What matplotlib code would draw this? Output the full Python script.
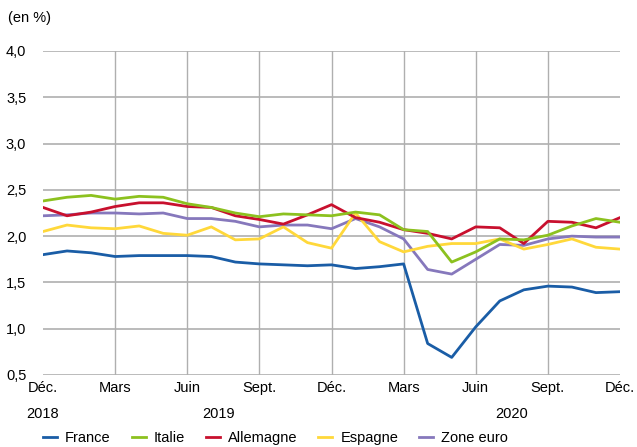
import matplotlib
matplotlib.use('Agg')
import matplotlib.pyplot as plt

plt.rcParams['font.family'] = ['Liberation Sans Narrow', 'Liberation Sans', 'DejaVu Sans']

months = list(range(25))
tick_pos = [0, 3, 6, 9, 12, 15, 18, 21, 24]
tick_labels = ['Déc.', 'Mars', 'Juin', 'Sept.', 'Déc.', 'Mars', 'Juin', 'Sept.', 'Déc.']
years = ['2018', '2019', '2020']
year_pos = [0, 7.3, 19.5]

france = [1.80, 1.84, 1.82, 1.78, 1.79, 1.79, 1.79, 1.78, 1.72, 1.70, 1.69, 1.68,
          1.69, 1.65, 1.67, 1.70, 0.84, 0.69, 1.02, 1.30, 1.42, 1.46, 1.45, 1.39, 1.40]
italie = [2.38, 2.42, 2.44, 2.40, 2.43, 2.42, 2.35, 2.31, 2.25, 2.21, 2.24, 2.23,
          2.22, 2.26, 2.23, 2.07, 2.05, 1.72, 1.83, 1.97, 1.96, 2.01, 2.11, 2.19, 2.15]
allemagne = [2.31, 2.22, 2.26, 2.32, 2.36, 2.36, 2.32, 2.31, 2.22, 2.18, 2.13, 2.23,
             2.34, 2.20, 2.15, 2.07, 2.03, 1.97, 2.10, 2.09, 1.92, 2.16, 2.15, 2.09, 2.20]
espagne = [2.05, 2.12, 2.09, 2.08, 2.11, 2.03, 2.01, 2.10, 1.96, 1.97, 2.10, 1.93,
           1.87, 2.25, 1.94, 1.83, 1.89, 1.92, 1.92, 1.97, 1.86, 1.91, 1.97, 1.88, 1.86]
zone_euro = [2.22, 2.23, 2.25, 2.25, 2.24, 2.25, 2.19, 2.19, 2.16, 2.10, 2.12, 2.12,
             2.08, 2.19, 2.10, 1.97, 1.64, 1.59, 1.75, 1.91, 1.90, 1.97, 2.00, 1.99, 1.99]

series = [
    ('France', france, '#1A5DA6'),
    ('Italie', italie, '#8CC11F'),
    ('Allemagne', allemagne, '#C8102E'),
    ('Espagne', espagne, '#FFD83A'),
    ('Zone euro', zone_euro, '#8678BC'),
]

fig = plt.figure(figsize=(6.37, 4.47), dpi=100)
ax = fig.add_axes([43 / 637, 1 - 375 / 447, (620 - 43) / 637, (375 - 51) / 447])

grid_col = '#AFAFAF'
for y in [0.5, 1.0, 1.5, 2.0, 2.5, 3.0, 3.5, 4.0]:
    ax.axhline(y, color=grid_col, lw=1.2, zorder=1)
for x in tick_pos[1:-1]:
    ax.axvline(x, color=grid_col, lw=1.0, zorder=1)

# draw in reverse so France sits on top like the original
for name, vals, col in series[::-1]:
    ax.plot(months, vals, color=col, lw=2.0, label=name, zorder=2)

ax.set_xlim(0, 24)
ax.set_ylim(0.5, 4.0)
for s in ax.spines.values():
    s.set_visible(False)
ax.tick_params(length=0, labelsize=10.5, pad=12)
ax.set_yticks([0.5, 1.0, 1.5, 2.0, 2.5, 3.0, 3.5, 4.0])
ax.set_yticklabels(['0,5', '1,0', '1,5', '2,0', '2,5', '3,0', '3,5', '4,0'])
ax.tick_params(axis='x', pad=4)
ax.set_xticks(tick_pos)
ax.set_xticklabels(tick_labels)

for yr, xp in zip(years, year_pos):
    ax.text(xp, -0.12, yr, transform=ax.get_xaxis_transform(),
            ha='center', va='center', fontsize=10.5)

fig.text(8 / 637, 1 - 18 / 447, '(en %)', ha='left', va='center', fontsize=10.5)

handles, labels = ax.get_legend_handles_labels()
fig.legend(handles[::-1], labels[::-1], loc='center left', bbox_to_anchor=(43 / 637, 1 - 438 / 447),
           ncol=5, frameon=False, fontsize=10.5, handlelength=0.95, handletextpad=0.55,
           columnspacing=1.45, borderaxespad=0, borderpad=0)

fig.savefig('out.png', dpi=100)
